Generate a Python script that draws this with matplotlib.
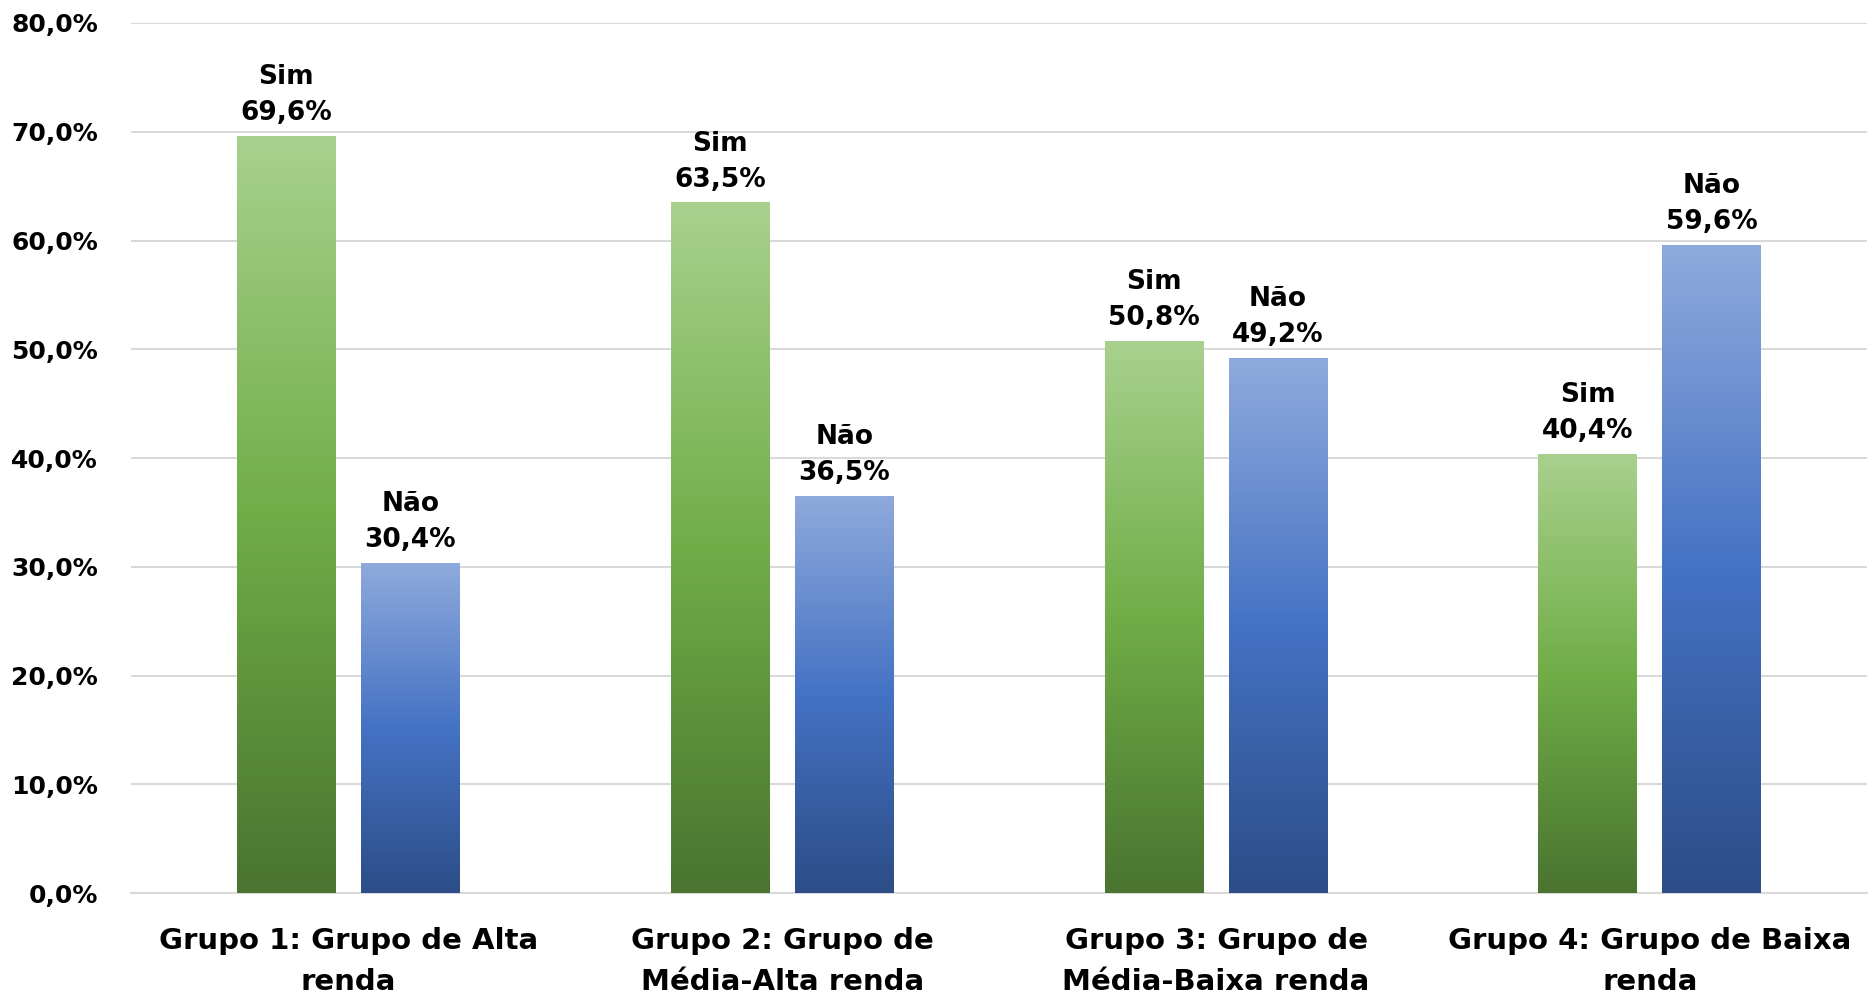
import matplotlib
matplotlib.use('Agg')
import numpy as np
import matplotlib.pyplot as plt
from matplotlib.colors import LinearSegmentedColormap
from matplotlib.ticker import FuncFormatter

plt.rcParams['font.family'] = ['DejaVu Sans']
plt.rcParams['font.weight'] = 'bold'

grupos = ['Grupo 1: Grupo de Alta\nrenda', 'Grupo 2: Grupo de\nMédia-Alta renda',
          'Grupo 3: Grupo de\nMédia-Baixa renda', 'Grupo 4: Grupo de Baixa\nrenda']
sim = [69.6, 63.5, 50.8, 40.4]
nao = [30.4, 36.5, 49.2, 59.6]
yticks = [0, 10, 20, 30, 40, 50, 60, 70, 80]

green = LinearSegmentedColormap.from_list('g', ['#4a7430', '#70ad47', '#a9d18e'])
blue = LinearSegmentedColormap.from_list('b', ['#2c4d87', '#4472c4', '#8faadc'])

fig = plt.figure(figsize=(18.72, 9.98), dpi=100)
ax = fig.add_axes([0.0702, 0.105, 0.927, 0.872])

x = np.arange(len(grupos))
w = 0.228
off = 0.143
grad = np.linspace(0, 1, 256).reshape(-1, 1)

def gradient_bars(pos, vals, cmap, name):
    bars = ax.bar(pos, vals, w, color='none', edgecolor='none', zorder=3)
    for b, v in zip(bars, vals):
        x0, y0 = b.get_x(), b.get_y()
        im = ax.imshow(grad, cmap=cmap, origin='lower', aspect='auto',
                       extent=[x0, x0 + b.get_width(), y0, y0 + b.get_height()],
                       zorder=3)
        im.set_clip_path(b)
        ax.annotate(f'{name}\n{v:.1f}%'.replace('.', ','),
                    (b.get_x() + b.get_width() / 2, v),
                    xytext=(0, 7), textcoords='offset points',
                    ha='center', va='bottom', fontsize=19, fontweight='bold',
                    linespacing=1.5, zorder=4)

gradient_bars(x - off, sim, green, 'Sim')
gradient_bars(x + off, nao, blue, 'Não')

ax.set_xlim(-0.5, len(grupos) - 0.5)
ax.set_ylim(0, 80)
ax.set_yticks(yticks)
ax.yaxis.set_major_formatter(FuncFormatter(lambda v, p: f'{v:.1f}%'.replace('.', ',')))
ax.set_xticks(x)
ax.set_xticklabels(grupos, fontsize=21, fontweight='bold', linespacing=1.62)
for lab in ax.get_yticklabels():
    lab.set_fontsize(18)
    lab.set_fontweight('bold')
ax.tick_params(axis='both', length=0)
ax.tick_params(axis='y', pad=24)
ax.tick_params(axis='x', pad=24)
ax.grid(axis='y', color='#d9d9d9', linewidth=1.5, zorder=0)
ax.set_axisbelow(True)
for s in ['top', 'right', 'left']:
    ax.spines[s].set_visible(False)
ax.spines['bottom'].set_color('#d9d9d9')
ax.spines['bottom'].set_linewidth(1.5)

fig.savefig('out.png', dpi=100)
